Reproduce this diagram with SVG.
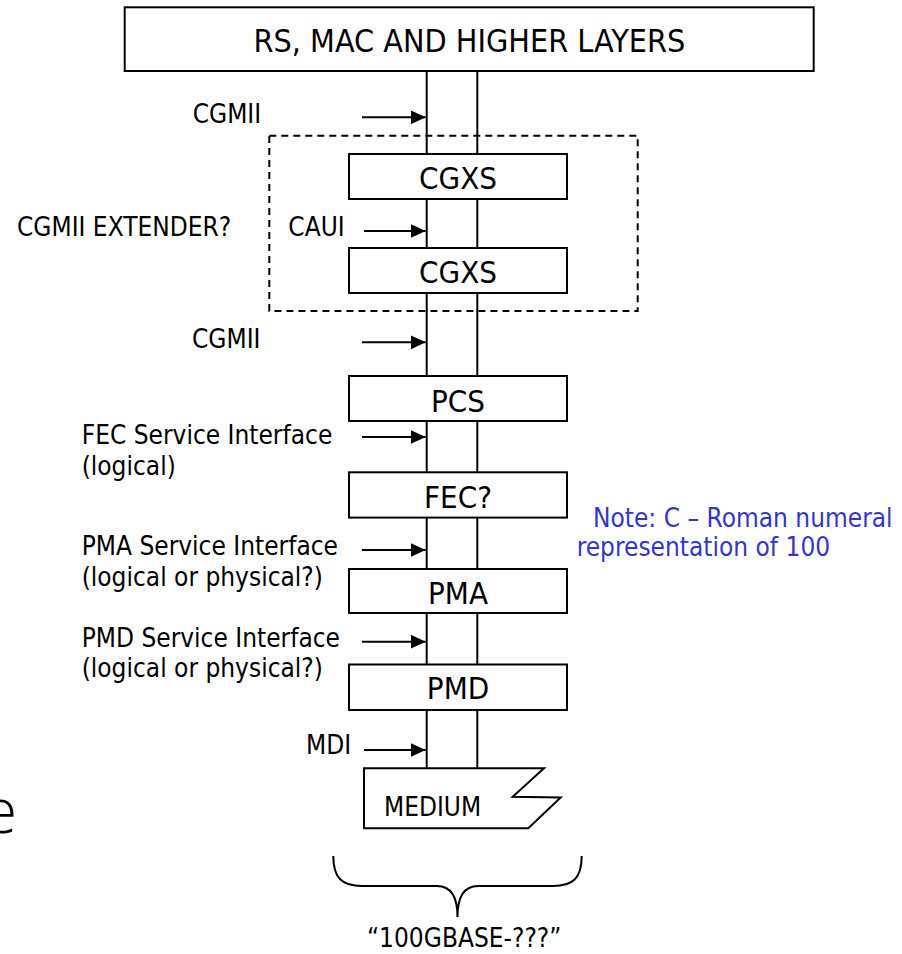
<svg xmlns="http://www.w3.org/2000/svg" width="902" height="954" viewBox="0 0 902 954">
<defs>
<marker id="ah" markerUnits="userSpaceOnUse" markerWidth="16" markerHeight="16" refX="15" refY="7" orient="auto">
<path d="M0,0 L15,7 L0,14 Z" fill="#000"/>
</marker>
<style>
.box{fill:#fff;stroke:#000;stroke-width:2}
.ln{stroke:#000;stroke-width:2;fill:none}
.arr{stroke:#000;stroke-width:2;fill:none;marker-end:url(#ah)}
.t{font-family:"DejaVu Sans Condensed","DejaVu Sans",sans-serif;fill:#000}
.s{font-size:26px}
.b{font-size:31px}
.note{fill:#3535c8}
</style>
</defs>
<rect width="902" height="954" fill="#fff"/>
<text x="-17" y="833" font-family="'Open Sans','Liberation Sans',sans-serif" font-size="62" font-weight="300" fill="#000">e</text>
<g id="connectors">
<line class="ln" x1="426.7" y1="71" x2="426.7" y2="154"/>
<line class="ln" x1="477.3" y1="71" x2="477.3" y2="154"/>
<line class="ln" x1="426.7" y1="199" x2="426.7" y2="248"/>
<line class="ln" x1="477.3" y1="199" x2="477.3" y2="248"/>
<line class="ln" x1="426.7" y1="293" x2="426.7" y2="376"/>
<line class="ln" x1="477.3" y1="293" x2="477.3" y2="376"/>
<line class="ln" x1="426.7" y1="421" x2="426.7" y2="472"/>
<line class="ln" x1="477.3" y1="421" x2="477.3" y2="472"/>
<line class="ln" x1="426.7" y1="518" x2="426.7" y2="569"/>
<line class="ln" x1="477.3" y1="518" x2="477.3" y2="569"/>
<line class="ln" x1="426.7" y1="613" x2="426.7" y2="665"/>
<line class="ln" x1="477.3" y1="613" x2="477.3" y2="665"/>
<line class="ln" x1="426.7" y1="710" x2="426.7" y2="768"/>
<line class="ln" x1="477.3" y1="710" x2="477.3" y2="768"/>
<line class="arr" x1="362" y1="117.3" x2="425.7" y2="117.3"/>
<line class="arr" x1="364" y1="231" x2="425.7" y2="231"/>
<line class="arr" x1="362" y1="342.3" x2="425.7" y2="342.3"/>
<line class="arr" x1="362" y1="437" x2="425.7" y2="437"/>
<line class="arr" x1="362" y1="550" x2="425.7" y2="550"/>
<line class="arr" x1="362" y1="641.7" x2="425.7" y2="641.7"/>
<line class="arr" x1="364" y1="750" x2="425.7" y2="750"/>
</g>
<g id="extender">
<rect x="269.3" y="135.7" width="368.4" height="175.3" fill="none" stroke="#000" stroke-width="2" stroke-dasharray="7 5"/>
<text class="t s" x="17" y="235.5">CGMII EXTENDER?</text>
</g>
<g id="top">
<rect class="box" x="124.7" y="7.3" width="689" height="63.7"/>
<text class="t" x="469.4" y="52.3" font-size="32" text-anchor="middle">RS, MAC AND HIGHER LAYERS</text>
</g>
<g id="cgxs1">
<rect class="box" x="349" y="154" width="218" height="45"/>
<text class="t b" x="458" y="189.3" text-anchor="middle">CGXS</text>
</g>
<g id="cgxs2">
<rect class="box" x="349" y="248" width="218" height="45"/>
<text class="t b" x="458" y="282.7" text-anchor="middle">CGXS</text>
</g>
<g id="pcs">
<rect class="box" x="349" y="376" width="218" height="45"/>
<text class="t b" x="458" y="411.5" text-anchor="middle">PCS</text>
</g>
<g id="fec">
<rect class="box" x="349" y="472.3" width="218" height="45.3"/>
<text class="t b" x="458" y="508" text-anchor="middle">FEC?</text>
</g>
<g id="pma">
<rect class="box" x="349" y="569" width="218" height="44"/>
<text class="t b" x="458" y="604" text-anchor="middle">PMA</text>
</g>
<g id="pmd">
<rect class="box" x="349" y="664.5" width="218" height="45.5"/>
<text class="t b" x="458" y="699" text-anchor="middle">PMD</text>
</g>
<g id="medium">
<path class="box" d="M364,768.3 L544,768.3 L512.7,796.7 L560.7,797.5 L528.3,828.3 L364,828.3 Z"/>
<text class="t s" x="384" y="815.7">MEDIUM</text>
</g>
<g id="labels">
<text class="t s" x="192.7" y="123.3">CGMII</text>
<text class="t s" x="288.3" y="235.7">CAUI</text>
<text class="t s" x="192" y="347.7">CGMII</text>
<text class="t s" x="81.7" y="444">FEC Service Interface</text>
<text class="t s" x="81.7" y="475">(logical)</text>
<text class="t s" x="81.7" y="555">PMA Service Interface</text>
<text class="t s" x="81.7" y="586">(logical or physical?)</text>
<text class="t s" x="81.7" y="646.7">PMD Service Interface</text>
<text class="t s" x="81.7" y="677">(logical or physical?)</text>
<text class="t s" x="306" y="754">MDI</text>
</g>
<g id="note">
<text class="t s note" x="593" y="527">Note: C – Roman numeral</text>
<text class="t s note" x="576.7" y="556">representation of 100</text>
</g>
<g id="brace">
<path class="ln" d="M333.3,856 C333.3,878 342,886 362,886 L437,886 C450,886 457.5,896 457.5,917 C457.5,896 465,886 478,886 L553,886 C573,886 581.7,878 581.7,856"/>
<text class="t s" x="367" y="947">“100GBASE-???”</text>
</g>
</svg>
